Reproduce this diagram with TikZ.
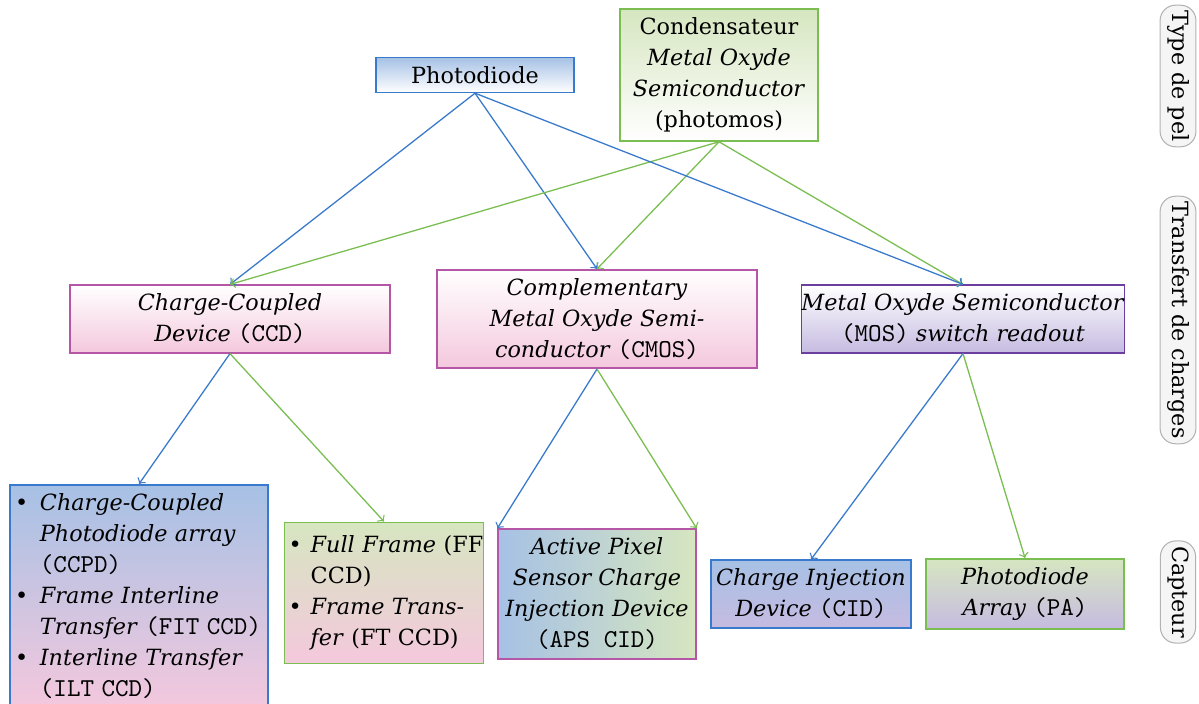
\documentclass[tikz,border=0pt]{standalone}
\usepackage{fontspec}
\setmainfont{DejaVu Serif}[Scale=0.865]

\definecolor{bleu}{RGB}{58,122,204}
\definecolor{vert}{RGB}{122,190,82}
\definecolor{mauve}{RGB}{182,86,166}
\definecolor{violet}{RGB}{108,62,160}
\definecolor{fondbleu}{RGB}{166,193,229}
\definecolor{fondvert}{RGB}{214,230,192}
\definecolor{fondrose}{RGB}{244,200,221}
\definecolor{fondlavande}{RGB}{198,187,225}

\tikzset{
	boite/.style={draw, line width=0.6pt, inner xsep=2pt, inner ysep=3.4pt, align=center},
	petite/.style={boite, minimum width=76.7pt},
	grande/.style={boite, minimum width=124pt},
	liste/.style={boite, inner ysep=1.5pt, text width=96pt, align=left},
	etiquette/.style={draw=gray!60, rounded corners=6pt, fill=gray!8, inner xsep=2pt, inner ysep=2.7pt, rotate=-90},
	fleche/.style={->, line width=0.5pt}
}

\begin{document}
\begin{tikzpicture}[x=0.3876pt, y=-0.3876pt]
	\useasboundingbox (0, 0) rectangle (1199, 704);

	% type de pel
	\node[petite, draw=bleu, top color=fondbleu, bottom color=white] (photodiode) at (475, 75) {Photodiode};
	\node[petite, draw=vert, top color=fondvert, bottom color=white] (photomos) at (719, 75) {Condensateur\\\emph{Metal Oxyde}\\\emph{Semiconductor}\\(photomos)};

	% transfert de charges
	\node[grande, draw=mauve, top color=white, bottom color=fondrose] (ccd) at (230, 319) {\emph{Charge-Coupled}\\\emph{Device} \texttt{(CCD)}};
	\node[grande, draw=mauve, top color=white, bottom color=fondrose] (cmos) at (597, 319) {\emph{Complementary}\\\emph{Metal Oxyde Semi-}\\\emph{conductor} \texttt{(CMOS)}};
	\node[grande, inner xsep=0pt, draw=violet, top color=white, bottom color=fondlavande] (mos) at (963, 319) {\emph{Metal Oxyde Semiconductor}\\\texttt{(MOS)} \emph{switch readout}};

	% capteurs
	\node[liste, draw=bleu, top color=fondbleu, bottom color=fondrose, anchor=north] (ccpd) at (139, 484) {%
		\begin{tabular}{@{}c@{\hspace{4.5pt}}l@{}}
			\textbullet & \emph{Charge-Coupled}\\
			& \emph{Photodiode array}\\
			& \texttt{(CCPD)}\\
			\textbullet & \emph{Frame Interline}\\
			& \emph{Transfer} \texttt{(FIT CCD)}\\
			\textbullet & \emph{Interline Transfer}\\
			& \texttt{(ILT CCD)}
		\end{tabular}};
	\node[liste, inner ysep=3.4pt, inner xsep=1.5pt, text width=74pt, draw=vert, top color=fondvert, bottom color=fondrose] (ff) at (384, 593) {%
		\begin{tabular}{@{}c@{\hspace{3.5pt}}l@{}}
			\textbullet & \emph{Full Frame} (FF\\
			& CCD)\\
			\textbullet & \emph{Frame Trans-}\\
			& \emph{fer} (FT CCD)
		\end{tabular}};
	\node[petite, draw=mauve, left color=fondbleu, right color=fondvert] (aps) at (597, 594) {\emph{Active Pixel}\\\emph{Sensor Charge}\\\emph{Injection Device}\\\texttt{(APS CID)}};
	\node[petite, draw=bleu, top color=fondbleu, bottom color=fondlavande] (cid) at (811, 594) {\emph{Charge Injection}\\\emph{Device} \texttt{(CID)}};
	\node[petite, draw=vert, top color=fondvert, bottom color=fondlavande] (pa) at (1025, 594) {\emph{Photodiode}\\\emph{Array} \texttt{(PA)}};

	% niveaux
	\node[etiquette] (niv1) at (1178, 76) {Type de pel};
	\node[etiquette] (niv2) at (1178, 320) {Transfert de charges};
	\node[etiquette] (niv3) at (1178, 592) {Capteur};

	% liens
	\draw[fleche, bleu] (photodiode.south) -- (ccd.north);
	\draw[fleche, bleu] (photodiode.south) -- (cmos.north);
	\draw[fleche, vert] (photomos.south) -- (ccd.north);
	\draw[fleche, vert] (photomos.south) -- (cmos.north);
	\draw[fleche, vert] (photomos.south) -- (mos.north);
	\draw[fleche, bleu] (photodiode.south) -- (mos.north);
	\draw[fleche, bleu] (ccd.south) -- (ccpd.north);
	\draw[fleche, vert] (ccd.south) -- (ff.north);
	\draw[fleche, bleu] (cmos.south) -- (aps.north west);
	\draw[fleche, vert] (cmos.south) -- (aps.north east);
	\draw[fleche, bleu] (mos.south) -- (cid.north);
	\draw[fleche, vert] (mos.south) -- (pa.north);
\end{tikzpicture}
\end{document}
